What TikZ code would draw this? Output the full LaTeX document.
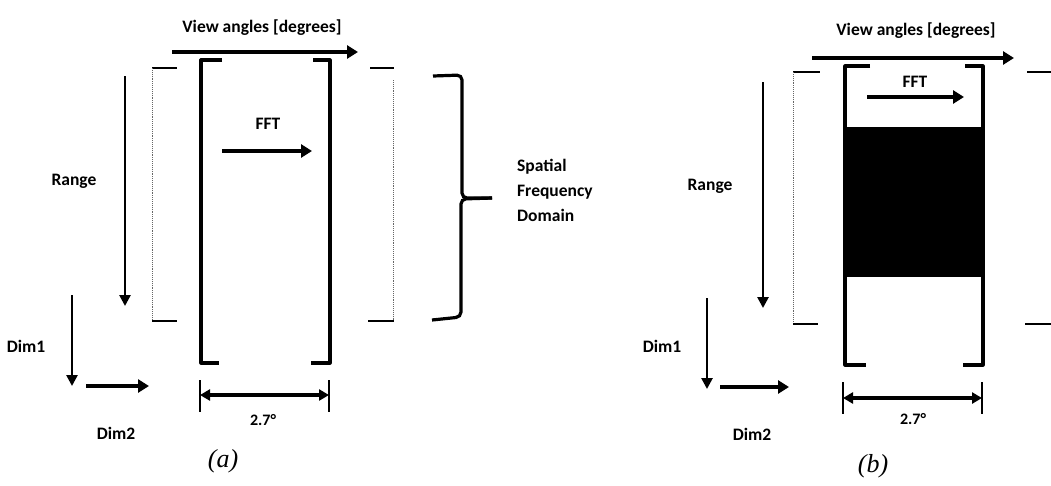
\documentclass[tikz,border=0pt]{standalone}
\usepackage{fontspec}
\setmainfont{Carlito}
\newfontfamily\capfont{Liberation Serif}
\usetikzlibrary{arrows.meta}
\tikzset{
  lbl/.style={font=\fontsize{17.5}{20}\selectfont\bfseries, inner sep=0pt},
  captxt/.style={font=\capfont\fontsize{26}{30}\selectfont\itshape, inner sep=0pt},
  bigarrow/.style={line width=4pt, -{Triangle[length=11pt,width=13pt]}},
  medarrow/.style={line width=2.6pt, -{Triangle[length=11pt,width=11pt]}},
  dimarrow/.style={line width=3.2pt, {Triangle[length=10pt,width=11pt]}-{Triangle[length=10pt,width=11pt]}},
  frame/.style={line width=3.2pt, line join=round},
  tickl/.style={line width=2.4pt},
  thinl/.style={line width=1.5pt},
  dotl/.style={line width=0.9pt, densely dotted, black!60},
  bracel/.style={line width=3.2pt, rounded corners=5pt},
}
\begin{document}
\begin{tikzpicture}[x=1pt,y=-1pt]
\useasboundingbox (0,0) rectangle (1051,485);

% ---------------- panel (a) ----------------
\node[lbl] (vaA) at (262,28) {View angles [degrees]};
\coordinate (vaAs) at (172,52); \coordinate (vaAe) at (358,52);
\draw[bigarrow] (vaAs) -- (vaAe);

% left dotted frame
\coordinate (lA1) at (152,68); \coordinate (lA2) at (177,68);
\coordinate (lA3) at (152,321); \coordinate (lA4) at (177,321);
\draw[thinl] (lA1) -- (lA2);
\draw[dotl] (lA1) -- (lA3);
\draw[thinl] (lA3) -- (lA4);

% central bracket
\draw[frame] (222,60) -- (201,60) -- (201,363) -- (219,363);
\draw[frame] (313,60) -- (330,60) -- (330,363) -- (311,363);

% right dotted frame
\coordinate (rA1) at (370,68); \coordinate (rA2) at (394,68);
\coordinate (rA3) at (368,321); \coordinate (rA4) at (394,321);
\draw[thinl] (rA1) -- (rA2);
\draw[dotl] (393,80) -- (393,321);
\draw[line width=2.4pt] (rA3) -- (rA4);

% FFT
\node[lbl] (fftA) at (268,124) {FFT};
\coordinate (fAs) at (222,151); \coordinate (fAe) at (312,151);
\draw[bigarrow, line width=3.4pt] (fAs) -- (fAe);

% Range
\node[lbl] (rgA) at (74,181) {Range};
\coordinate (rgAs) at (125,76); \coordinate (rgAe) at (125,306);
\draw[medarrow] (rgAs) -- (rgAe);

% brace
\draw[bracel] (433,76) -- (462,75) -- (462,198) -- (492,198);
\draw[bracel] (492,198) -- (461,199) -- (461,317) -- (432,320);
\node[lbl, anchor=west, align=left] (sfd) at (517,190) {Spatial\\[5pt]Frequency\\[5pt]Domain};

% Dim1 / Dim2
\node[lbl] (d1A) at (26,346) {Dim1};
\coordinate (d1As) at (72,295); \coordinate (d1Ae) at (72,386);
\draw[medarrow] (d1As) -- (d1Ae);
\coordinate (d2As) at (86,386); \coordinate (d2Ae) at (149,386);
\draw[bigarrow] (d2As) -- (d2Ae);
\node[lbl] (d2A) at (116,433) {Dim2};

% dimension 2.7
\coordinate (tA1) at (200,395); \coordinate (tA2) at (329,395);
\draw[tickl] (200,380) -- (200,412);
\draw[tickl] (329,380) -- (329,412);
\draw[dimarrow] (tA1) -- (tA2);
\node[lbl, font=\fontsize{16}{18}\selectfont\bfseries] (degA) at (263,420) {2.7°};

\node[captxt] (capA) at (223,461) {(a)};

% ---------------- panel (b) ----------------
\node[lbl] (vaB) at (916,31) {View angles [degrees]};
\coordinate (vaBs) at (812,58); \coordinate (vaBe) at (1014,58);
\draw[bigarrow] (vaBs) -- (vaBe);

% left dotted frame
\coordinate (lB1) at (793,72); \coordinate (lB2) at (820,72);
\coordinate (lB3) at (793,324); \coordinate (lB4) at (818,324);
\draw[thinl] (lB1) -- (lB2);
\draw[dotl] (lB1) -- (lB3);
\draw[line width=2.2pt] (lB3) -- (lB4);

% central bracket with black band
\fill[black] (845,128) rectangle (984,277);
\draw[thinl] (845,128) -- (984,128);
\draw[frame] (870,66) -- (845,66) -- (845,365) -- (866,365);
\draw[frame] (965,66) -- (983,66) -- (983,365) -- (963,365);

% right lines
\draw[thinl] (1027,72) -- (1051,72);
\draw[line width=2.2pt] (1025,324) -- (1051,324);

% FFT
\node[lbl] (fftB) at (915,82) {FFT};
\coordinate (fBs) at (867,97); \coordinate (fBe) at (964,97);
\draw[bigarrow, line width=3.4pt] (fBs) -- (fBe);

% Range
\node[lbl] (rgB) at (710,186) {Range};
\coordinate (rgBs) at (763,82); \coordinate (rgBe) at (763,308);
\draw[medarrow] (rgBs) -- (rgBe);

% Dim1 / Dim2
\node[lbl] (d1B) at (662,346) {Dim1};
\coordinate (d1Bs) at (707,298); \coordinate (d1Be) at (707,389);
\draw[medarrow] (d1Bs) -- (d1Be);
\coordinate (d2Bs) at (720,387); \coordinate (d2Be) at (789,387);
\draw[bigarrow] (d2Bs) -- (d2Be);
\node[lbl] (d2B) at (752,434) {Dim2};

% dimension 2.7
\coordinate (tB1) at (843,398); \coordinate (tB2) at (982,398);
\draw[tickl] (843,382) -- (843,414);
\draw[tickl] (982,382) -- (982,414);
\draw[dimarrow] (tB1) -- (tB2);
\node[lbl, font=\fontsize{16}{18}\selectfont\bfseries] (degB) at (913,419) {2.7°};

\node[captxt] (capB) at (873,466) {(b)};
\end{tikzpicture}
\end{document}
